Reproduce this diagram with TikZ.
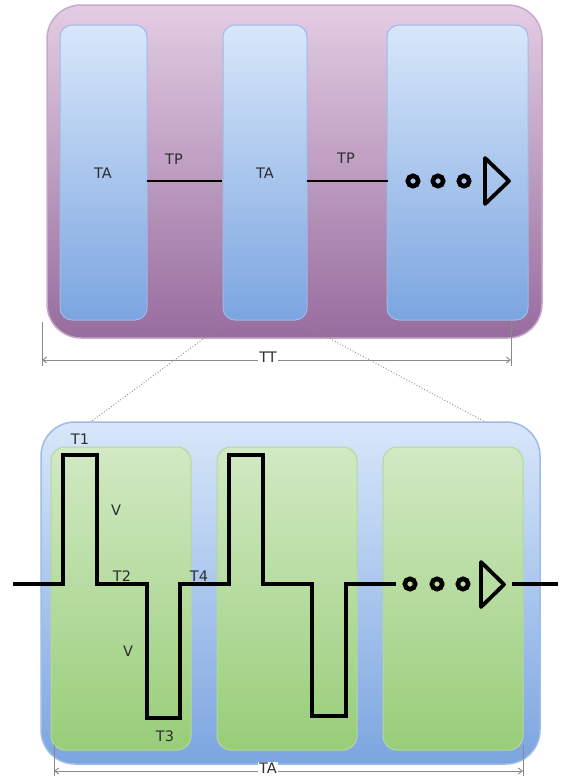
\documentclass[tikz,border=0pt]{standalone}
\usepackage{fontspec}
\setmainfont{DejaVu Sans}
\usetikzlibrary{arrows.meta}
\definecolor{purpT}{HTML}{E3CDE3}
\definecolor{purpD}{HTML}{976C9E}
\definecolor{purpB}{HTML}{C9A9CB}
\definecolor{bluT}{HTML}{D8E7FA}
\definecolor{bluD}{HTML}{7BA5E0}
\definecolor{bluB}{HTML}{9DBBE6}
\definecolor{grnT}{HTML}{D2E9C4}
\definecolor{grnD}{HTML}{98CD78}
\definecolor{grnB}{HTML}{B5D89E}
\definecolor{txt}{HTML}{2E2E2E}
\definecolor{dimc}{HTML}{8A8A8A}
\tikzset{
  outerP/.style={rounded corners=34pt, draw=purpB, line width=1.5pt, top color=purpT, bottom color=purpD},
  outerB/.style={rounded corners=34pt, draw=bluB, line width=1.5pt, top color=bluT, bottom color=bluD},
  innerB/.style={rounded corners=12pt, draw=bluB, line width=1pt, top color=bluT, bottom color=bluD},
  innerG/.style={rounded corners=14pt, draw=grnB, line width=1pt, top color=grnT, bottom color=grnD},
  lbl/.style={text=txt, font=\fontsize{14.5}{16}\selectfont, inner sep=1pt},
  wire/.style={line width=2.8pt, black},
  wave/.style={line width=3.3pt, black, line join=miter},
  dot/.style={line width=4.6pt, black},
  tri/.style={line width=3.8pt, black, line join=round},
  dimline/.style={draw=dimc, line width=0.9pt, {Straight Barb[length=4pt,width=6pt]}-{Straight Barb[length=4pt,width=6pt]}},
  dimtick/.style={draw=dimc, line width=0.9pt},
  zoomline/.style={draw=dimc, line width=0.9pt, dotted}
}
\begin{document}
\begin{tikzpicture}[x=1pt,y=-1pt]
\useasboundingbox (0,0) rectangle (562,779);
% ---------- top part ----------
\node[outerP, minimum width=495pt, minimum height=333pt, inner sep=0pt] (top) at (294.5,171.5) {};
\node[innerB, minimum width=87pt, minimum height=295pt, inner sep=0pt] (a1) at (103.5,172.5) {};
\node[innerB, minimum width=84pt, minimum height=295pt, inner sep=0pt] (a2) at (265,172.5) {};
\node[innerB, minimum width=141pt, minimum height=295pt, inner sep=0pt] (a3) at (457.5,172.5) {};
\node[lbl] (ta1) at (103,173) {TA};
\node[lbl] (ta2) at (265,173) {TA};
\node[lbl] (tp1) at (174,159) {TP};
\node[lbl] (tp2) at (346,158) {TP};
\coordinate (w1) at (147,181);
\coordinate (w2) at (222,181);
\coordinate (w3) at (307,181);
\coordinate (w4) at (388,181);
\draw[wire] (w1) -- (w2);
\draw[wire] (w3) -- (w4);
\foreach \cx in {413,438,464} \draw[dot] (\cx,181) circle (5.2pt);
\coordinate (tr1) at (485,158);
\coordinate (tr2) at (485,204);
\coordinate (tr3) at (509,181);
\draw[tri] (tr1) -- (tr3) -- (tr2) -- cycle;
% TT dimension
\coordinate (tt1) at (42,360);
\coordinate (tt2) at (511,360);
\draw[dimtick] (42,322) -- (42,366);
\draw[dimtick] (511,322) -- (511,366);
\draw[dimline] (tt1) -- (tt2);
\node[lbl, fill=white, inner sep=1pt] (tt) at (268,357) {TT};
% zoom lines
\coordinate (z1) at (226,322);
\coordinate (z2) at (77,432);
\coordinate (z3) at (299,322);
\coordinate (z4) at (502,431);
\draw[zoomline] (z1) -- (z2);
\draw[zoomline] (z3) -- (z4);
% ---------- bottom part ----------
\node[outerB, minimum width=499pt, minimum height=342pt, inner sep=0pt] (bot) at (290.5,593) {};
\node[innerG, minimum width=140pt, minimum height=303pt, inner sep=0pt] (g1) at (121,598.5) {};
\node[innerG, minimum width=140pt, minimum height=303pt, inner sep=0pt] (g2) at (287,598.5) {};
\node[innerG, minimum width=140pt, minimum height=303pt, inner sep=0pt] (g3) at (453,598.5) {};
% waveform
\draw[wave] (13,584) -- (63,584) -- (63,455) -- (97,455) -- (97,584) -- (147,584)
  -- (147,718) -- (180,718) -- (180,584) -- (229,584) -- (229,455) -- (263,455)
  -- (263,584) -- (312,584) -- (312,716) -- (346,716) -- (346,584) -- (396,584);
\foreach \cx in {410,437,463} \draw[dot] (\cx,584) circle (5.2pt);
\coordinate (tb1) at (481,562);
\coordinate (tb2) at (481,607);
\coordinate (tb3) at (504,584.5);
\draw[tri] (tb1) -- (tb3) -- (tb2) -- cycle;
\coordinate (e1) at (512,584);
\coordinate (e2) at (558,584);
\draw[wave] (e1) -- (e2);
\node[lbl] (t1) at (80,439) {T1};
\node[lbl] (v1) at (116,510) {V};
\node[lbl] (t2) at (122,576) {T2};
\node[lbl] (t4) at (199,576) {T4};
\node[lbl] (v2) at (128,651) {V};
\node[lbl] (t3) at (165,736) {T3};
% TA dimension
\coordinate (da1) at (54,771);
\coordinate (da2) at (523,771);
\draw[dimtick] (54,745) -- (54,776);
\draw[dimtick] (523,745) -- (523,776);
\draw[dimline] (da1) -- (da2);
\node[lbl, fill=white, inner sep=1pt] (tad) at (268,768) {TA};
\end{tikzpicture}
\end{document}
